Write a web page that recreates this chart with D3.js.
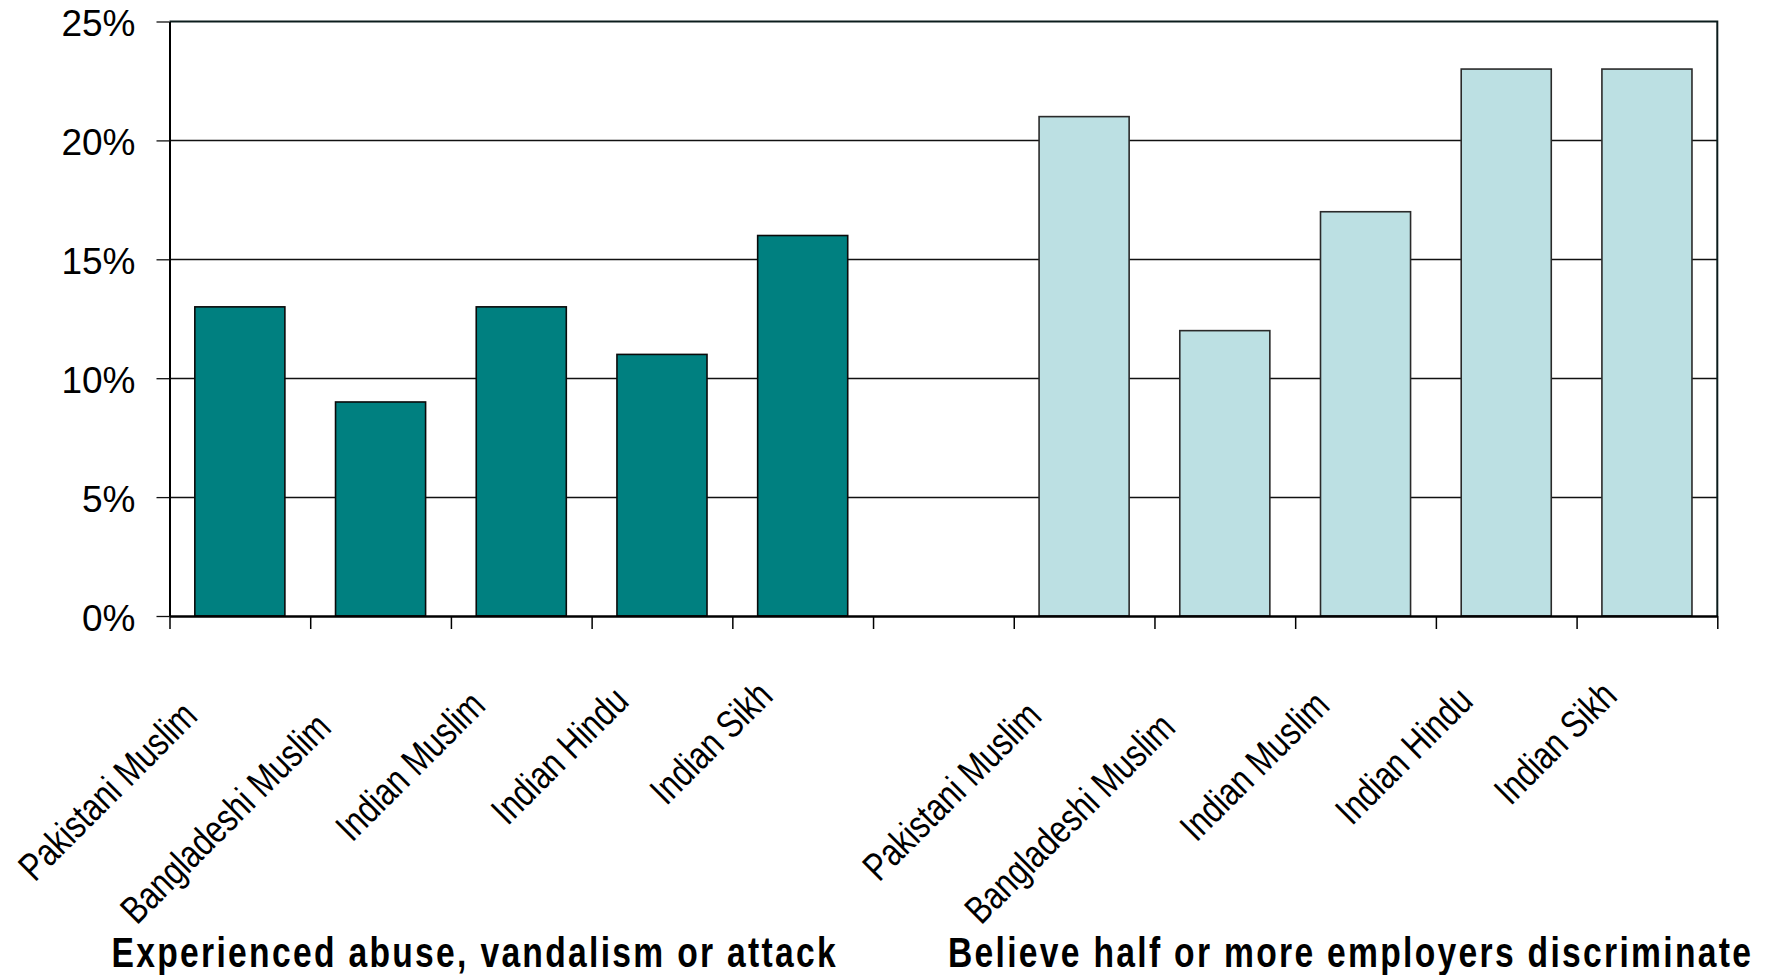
<!DOCTYPE html>
<html>
<head>
<meta charset="utf-8">
<script src="https://cdn.jsdelivr.net/npm/d3@7"></script>
<style>
  html, body { margin: 0; padding: 0; background: #ffffff; }
  svg { display: block; }
  text { font-family: "Liberation Sans", Arial, sans-serif; fill: #000; }
</style>
</head>
<body>
<svg id="chart" width="1774" height="975"></svg>
<script>
// Survey groups and their results (percent of respondents)
const groupTitles = ["Experienced abuse, vandalism or attack", "Believe half or more employers discriminate"];
const categories = ["Pakistani Muslim", "Bangladeshi Muslim", "Indian Muslim", "Indian Hindu", "Indian Sikh"];
const abuseValues = [13, 9, 13, 11, 16];
const employerValues = [21, 12, 17, 23, 23];
const yTicks = [0, 5, 10, 15, 20, 25];
const seriesColors = ["#008080", "#BCE0E3"];

const W = 1774, H = 975;
const plot = { left: 169.5, right: 1717.3, top: 21.5, bottom: 616 };

// One slot per bar, with an empty slot separating the two groups
const seriesValues = [abuseValues, employerValues];
const rows = [];
seriesValues.forEach((vals, g) => {
  categories.forEach((c, i) => rows.push({ key: g + "|" + c, group: g, label: c, value: vals[i] }));
});
const slotKeys = [...rows.filter(r => r.group === 0).map(r => r.key), "gap", ...rows.filter(r => r.group === 1).map(r => r.key)];

const x = d3.scaleBand().domain(slotKeys).range([plot.left, plot.right])
  .paddingInner(0.36).paddingOuter(0.18);
const slot = d3.scaleLinear().domain([0, slotKeys.length]).range([plot.left, plot.right]);
const y = d3.scaleLinear().domain([0, 25]).range([plot.bottom, plot.top]);

const svg = d3.select("#chart");
svg.append("rect").attr("width", W).attr("height", H).attr("fill", "#fff");

// Horizontal gridlines
svg.append("g").selectAll("line")
  .data(yTicks.filter(v => v > 0 && v < 25))
  .join("line")
  .attr("x1", plot.left).attr("x2", plot.right)
  .attr("y1", d => Math.round(y(d)) + 0.5).attr("y2", d => Math.round(y(d)) + 0.5)
  .attr("stroke", "#111").attr("stroke-width", 1.3);

// Plot frame (top and right edges)
svg.append("path")
  .attr("d", `M${plot.left},${y(25)}H${plot.right}V${plot.bottom}`)
  .attr("fill", "none").attr("stroke", "#0b1c1c").attr("stroke-width", 2);

// Bars
svg.append("g").selectAll("rect")
  .data(rows)
  .join("rect")
  .attr("x", d => x(d.key))
  .attr("width", x.bandwidth())
  .attr("y", d => y(d.value))
  .attr("height", d => y(0) - y(d.value))
  .attr("fill", d => seriesColors[d.group])
  .attr("stroke", d => d.group === 0 ? "#0a0a0a" : "#2a2a2a")
  .attr("stroke-width", 1.6);

// Y axis
const yAxis = svg.append("g")
  .attr("transform", `translate(${plot.left},0)`)
  .call(d3.axisLeft(y).tickValues(yTicks).tickFormat(d => d + "%").tickSize(13).tickPadding(21).tickSizeOuter(0));
yAxis.select(".domain").attr("stroke", "#000").attr("stroke-width", 2);
yAxis.selectAll(".tick line").attr("stroke", "#111").attr("stroke-width", 1.3);
yAxis.selectAll(".tick text")
  .attr("dy", "0.38em")
  .style("font-family", "'Liberation Sans', Arial, sans-serif")
  .style("font-size", "37px").attr("fill", "#000");

// X axis: ticks at slot boundaries
const xAxis = svg.append("g")
  .attr("transform", `translate(0,${plot.bottom})`)
  .call(d3.axisBottom(slot).tickValues(d3.range(slotKeys.length + 1)).tickFormat("").tickSize(13).tickSizeOuter(0));
xAxis.select(".domain").attr("stroke", "#000").attr("stroke-width", 2.4);
xAxis.selectAll(".tick line").attr("stroke", "#000").attr("stroke-width", 1.5);

// Rotated category labels (condensed)
const squeeze = 0.795;
const labelG = svg.append("g");
rows.forEach(d => {
  const g = labelG.append("g");
  const t = g.append("text")
    .attr("text-anchor", "end")
    .attr("transform", `scale(${squeeze},1)`)
    .style("font-size", "39px")
    .text(d.label);
  const L = t.node().getComputedTextLength() * squeeze;
  const cx = x(d.key) + x.bandwidth() / 2;
  const ex = cx - 28 - 0.158 * (L - 153);
  const ey = plot.bottom + 82 + 0.255 * (L - 153);
  g.attr("transform", `translate(${ex},${ey}) rotate(-45)`);
});

// Group titles under each half of the chart
const titleSqueeze = 0.8;
[
  { text: groupTitles[0], x: plot.left - 58, anchor: "start" },
  { text: groupTitles[1], x: plot.right + 36, anchor: "end" }
].forEach(t => {
  svg.append("g")
    .attr("transform", `translate(${t.x},967) scale(${titleSqueeze},1)`)
    .append("text")
    .attr("text-anchor", t.anchor)
    .style("font-size", "42px")
    .style("font-weight", "bold")
    .style("letter-spacing", "2.9px")
    .text(t.text);
});
</script>
</body>
</html>
